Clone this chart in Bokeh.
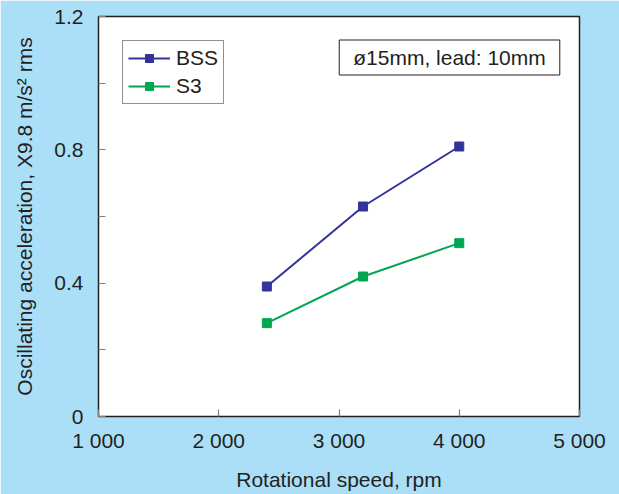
from bokeh.plotting import figure
from bokeh.models import Range1d, FixedTicker, Label
from bokeh.embed import file_html
from bokeh.resources import INLINE

# ---- data ----
rpm = [2400, 3200, 4000]
bss = [0.39, 0.63, 0.81]
s3 = [0.28, 0.42, 0.52]

x_ticks = [1000, 2000, 3000, 4000, 5000]
x_tick_labels = ["1 000", "2 000", "3 000", "4 000", "5 000"]
y_ticks = [0, 0.4, 0.8, 1.2]
y_minor_ticks = [0.2, 0.6, 1.0]
y_tick_labels = ["0", "0.4", "0.8", "1.2"]

series_names = ["BSS", "S3"]
note_text = "\u00f815mm, lead: 10mm"

BG = "#abdff8"
TXT = "#231f20"
FONT = "Liberation Sans"
FS = "21px"
colors = ["#333399", "#00a650"]

p = figure(width=619, height=494, output_backend="svg", toolbar_location=None,
           x_range=Range1d(1000, 5000), y_range=Range1d(0, 1.2),
           min_border_left=98, min_border_right=40, min_border_top=16, min_border_bottom=78)

p.background_fill_color = "white"
p.border_fill_color = BG
p.outline_line_color = "#231f20"
p.outline_line_width = 1.5
p.outline_line_alpha = 1.0
p.grid.visible = False

for ys, name, c in zip([bss, s3], series_names, colors):
    p.line(rpm, ys, line_color=c, line_width=2, legend_label=name)
    p.scatter(rpm, ys, marker="square", size=9, fill_color=c, line_color=c, legend_label=name)

# x axis
xa = p.xaxis[0]
xa.ticker = FixedTicker(ticks=x_ticks)
xa.major_label_overrides = {t: l for t, l in zip(x_ticks, x_tick_labels)}
xa.axis_label = "Rotational speed, rpm"

# y axis
ya = p.yaxis[0]
ya.ticker = FixedTicker(ticks=y_ticks, minor_ticks=y_minor_ticks)
ya.major_label_overrides = {t: l for t, l in zip(y_ticks, y_tick_labels)}
ya.axis_label = "Oscillating acceleration, X9.8 m/s\u00b2 rms"

for ax in [xa, ya]:
    ax.axis_line_color = None
    ax.major_tick_in = 7
    ax.major_tick_out = 0
    ax.minor_tick_in = 7
    ax.minor_tick_out = 0
    ax.major_tick_line_color = "#808080"
    ax.minor_tick_line_color = "#808080"
    ax.major_tick_line_width = 1.2
    ax.minor_tick_line_width = 1.2
    ax.major_label_text_font = FONT
    ax.major_label_text_font_size = FS
    ax.major_label_text_color = TXT
    ax.axis_label_text_font = FONT
    ax.axis_label_text_font_size = FS
    ax.axis_label_text_font_style = "normal"
    ax.axis_label_text_color = TXT
    ax.major_label_standoff = 12
    ax.axis_label_standoff = 13
xa.minor_tick_line_color = None
ya.major_label_standoff = 15
ya.axis_label_standoff = 15

# legend
lg = p.legend[0]
lg.location = "top_left"
lg.margin = 24
lg.padding = 5
lg.spacing = 4
lg.glyph_width = 42
lg.glyph_height = 20
lg.label_height = 20
lg.label_standoff = 6
lg.label_text_font = FONT
lg.label_text_font_size = FS
lg.label_text_color = TXT
lg.border_line_color = "#231f20"
lg.border_line_width = 1
lg.background_fill_color = "white"
lg.background_fill_alpha = 1.0

# annotation box
note = Label(x=3919, y=1.077, text=note_text, text_align="center", text_baseline="middle",
             text_font=FONT, text_font_size=FS, text_color=TXT,
             border_line_color="#231f20", border_line_width=1,
             background_fill_color="white",
             padding=dict(left=14, right=14, top=6, bottom=6))
p.add_layout(note)

open("out.html", "w").write(file_html(p, INLINE))
